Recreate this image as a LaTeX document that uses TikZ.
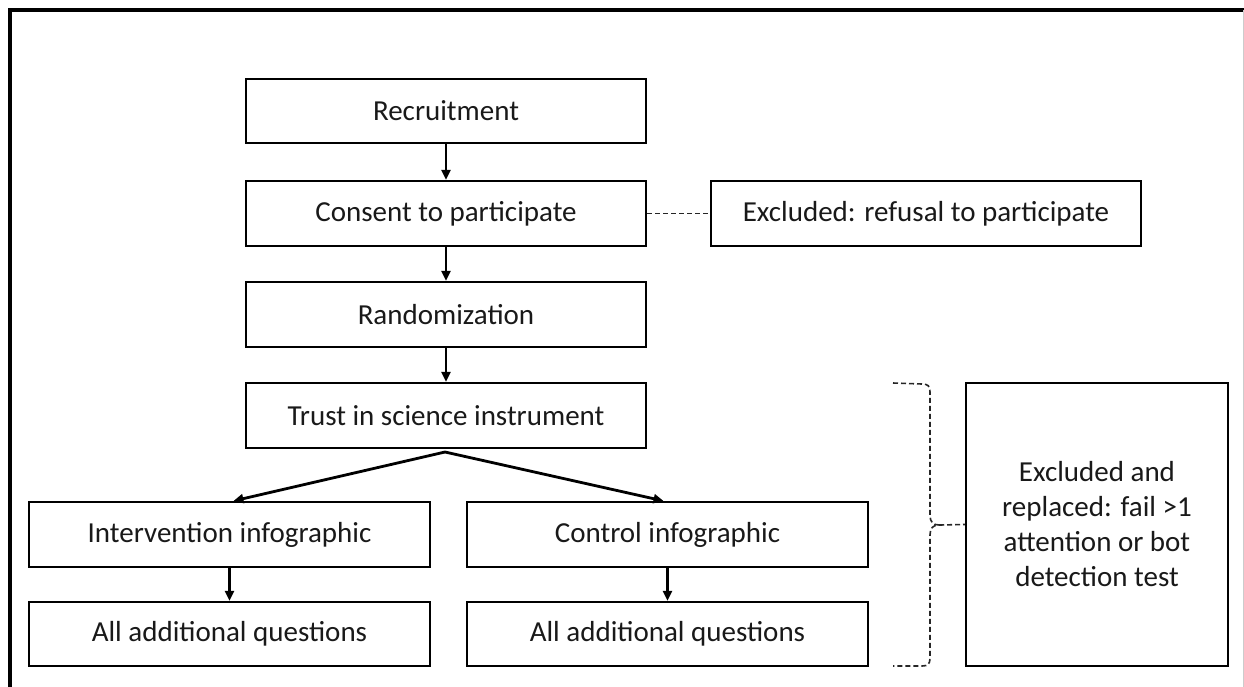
\documentclass[tikz,border=0pt]{standalone}
\usepackage{fontspec}
\setmainfont{Carlito}
\usetikzlibrary{arrows.meta}
\begin{document}
\begin{tikzpicture}[x=1pt,y=-1pt,
  box/.style={draw=black,line width=2.2pt,inner sep=0pt,text=black!90,
    font=\fontsize{29}{35}\selectfont,align=center},
  flow/.style={line width=2.8pt,-{Triangle[length=10pt,width=9pt]}},
  dsh/.style={line width=1.6pt,dash pattern=on 5pt off 3pt,black!85}]
\useasboundingbox (0,0) rectangle (1244,686);
\fill[white] (0,0) rectangle (1244,686);
% outer frame (partly outside the page)
\draw[line width=3.2pt] (10,720) -- (10,10) -- (1244,10);
\draw[line width=1pt,black!20] (1243.5,10) -- (1243.5,720);
% main column
\node[box,minimum width=400pt,minimum height=64pt] (rec) at (446,111) {Recruitment};
\node[box,minimum width=400pt,minimum height=65pt] (con) at (446,213.5) {Consent to participate};
\node[box,minimum width=430pt,minimum height=65pt] (exc) at (926,213.5) {Excluded: refusal to participate};
\node[box,minimum width=400pt,minimum height=65pt] (ran) at (446,314.5) {Randomization};
\node[box,minimum width=400pt,minimum height=65pt] (tru) at (446,415.5) {Trust in science instrument};
\node[box,minimum width=401pt,minimum height=65pt] (int) at (229.5,534.5) {Intervention infographic};
\node[box,minimum width=401pt,minimum height=65pt] (ctl) at (667.5,534.5) {Control infographic};
\node[box,minimum width=401pt,minimum height=64pt] (aq1) at (229.5,634) {All additional questions};
\node[box,minimum width=401pt,minimum height=64pt] (aq2) at (667.5,634) {All additional questions};
\node[box,minimum width=262pt,minimum height=283pt] (rbox) at (1097,524.5)
  {Excluded and\\replaced: fail >1\\attention or bot\\detection test};
% connectors
\draw[flow] (rec.south) -- (con.north);
\draw[flow] (con.south) -- (ran.north);
\draw[flow] (ran.south) -- (tru.north);
\coordinate (split) at (445,452);
\draw[flow] (split) -- ([xshift=4pt]int.north);
\draw[flow] (split) -- ([xshift=-4pt]ctl.north);
\draw[flow] (int.south) -- (aq1.south |- aq1.north);
\draw[flow] (ctl.south) -- (aq2.south |- aq2.north);
\draw[dsh] (con.east) -- (exc.west);
% dashed brace
\coordinate (btip) at (939,525);
\draw[dsh] (893,383) -- (922,384) .. controls (928,384) and (930,386) .. (930,392)
  -- (930,515) .. controls (930,522) and (933,525) .. (btip)
  .. controls (933,525) and (930,528) .. (930,535)
  -- (930,658) .. controls (930,664) and (928,666) .. (922,666) -- (893,666);
\draw[dsh] (btip) -- (rbox.west);
\end{tikzpicture}
\end{document}
